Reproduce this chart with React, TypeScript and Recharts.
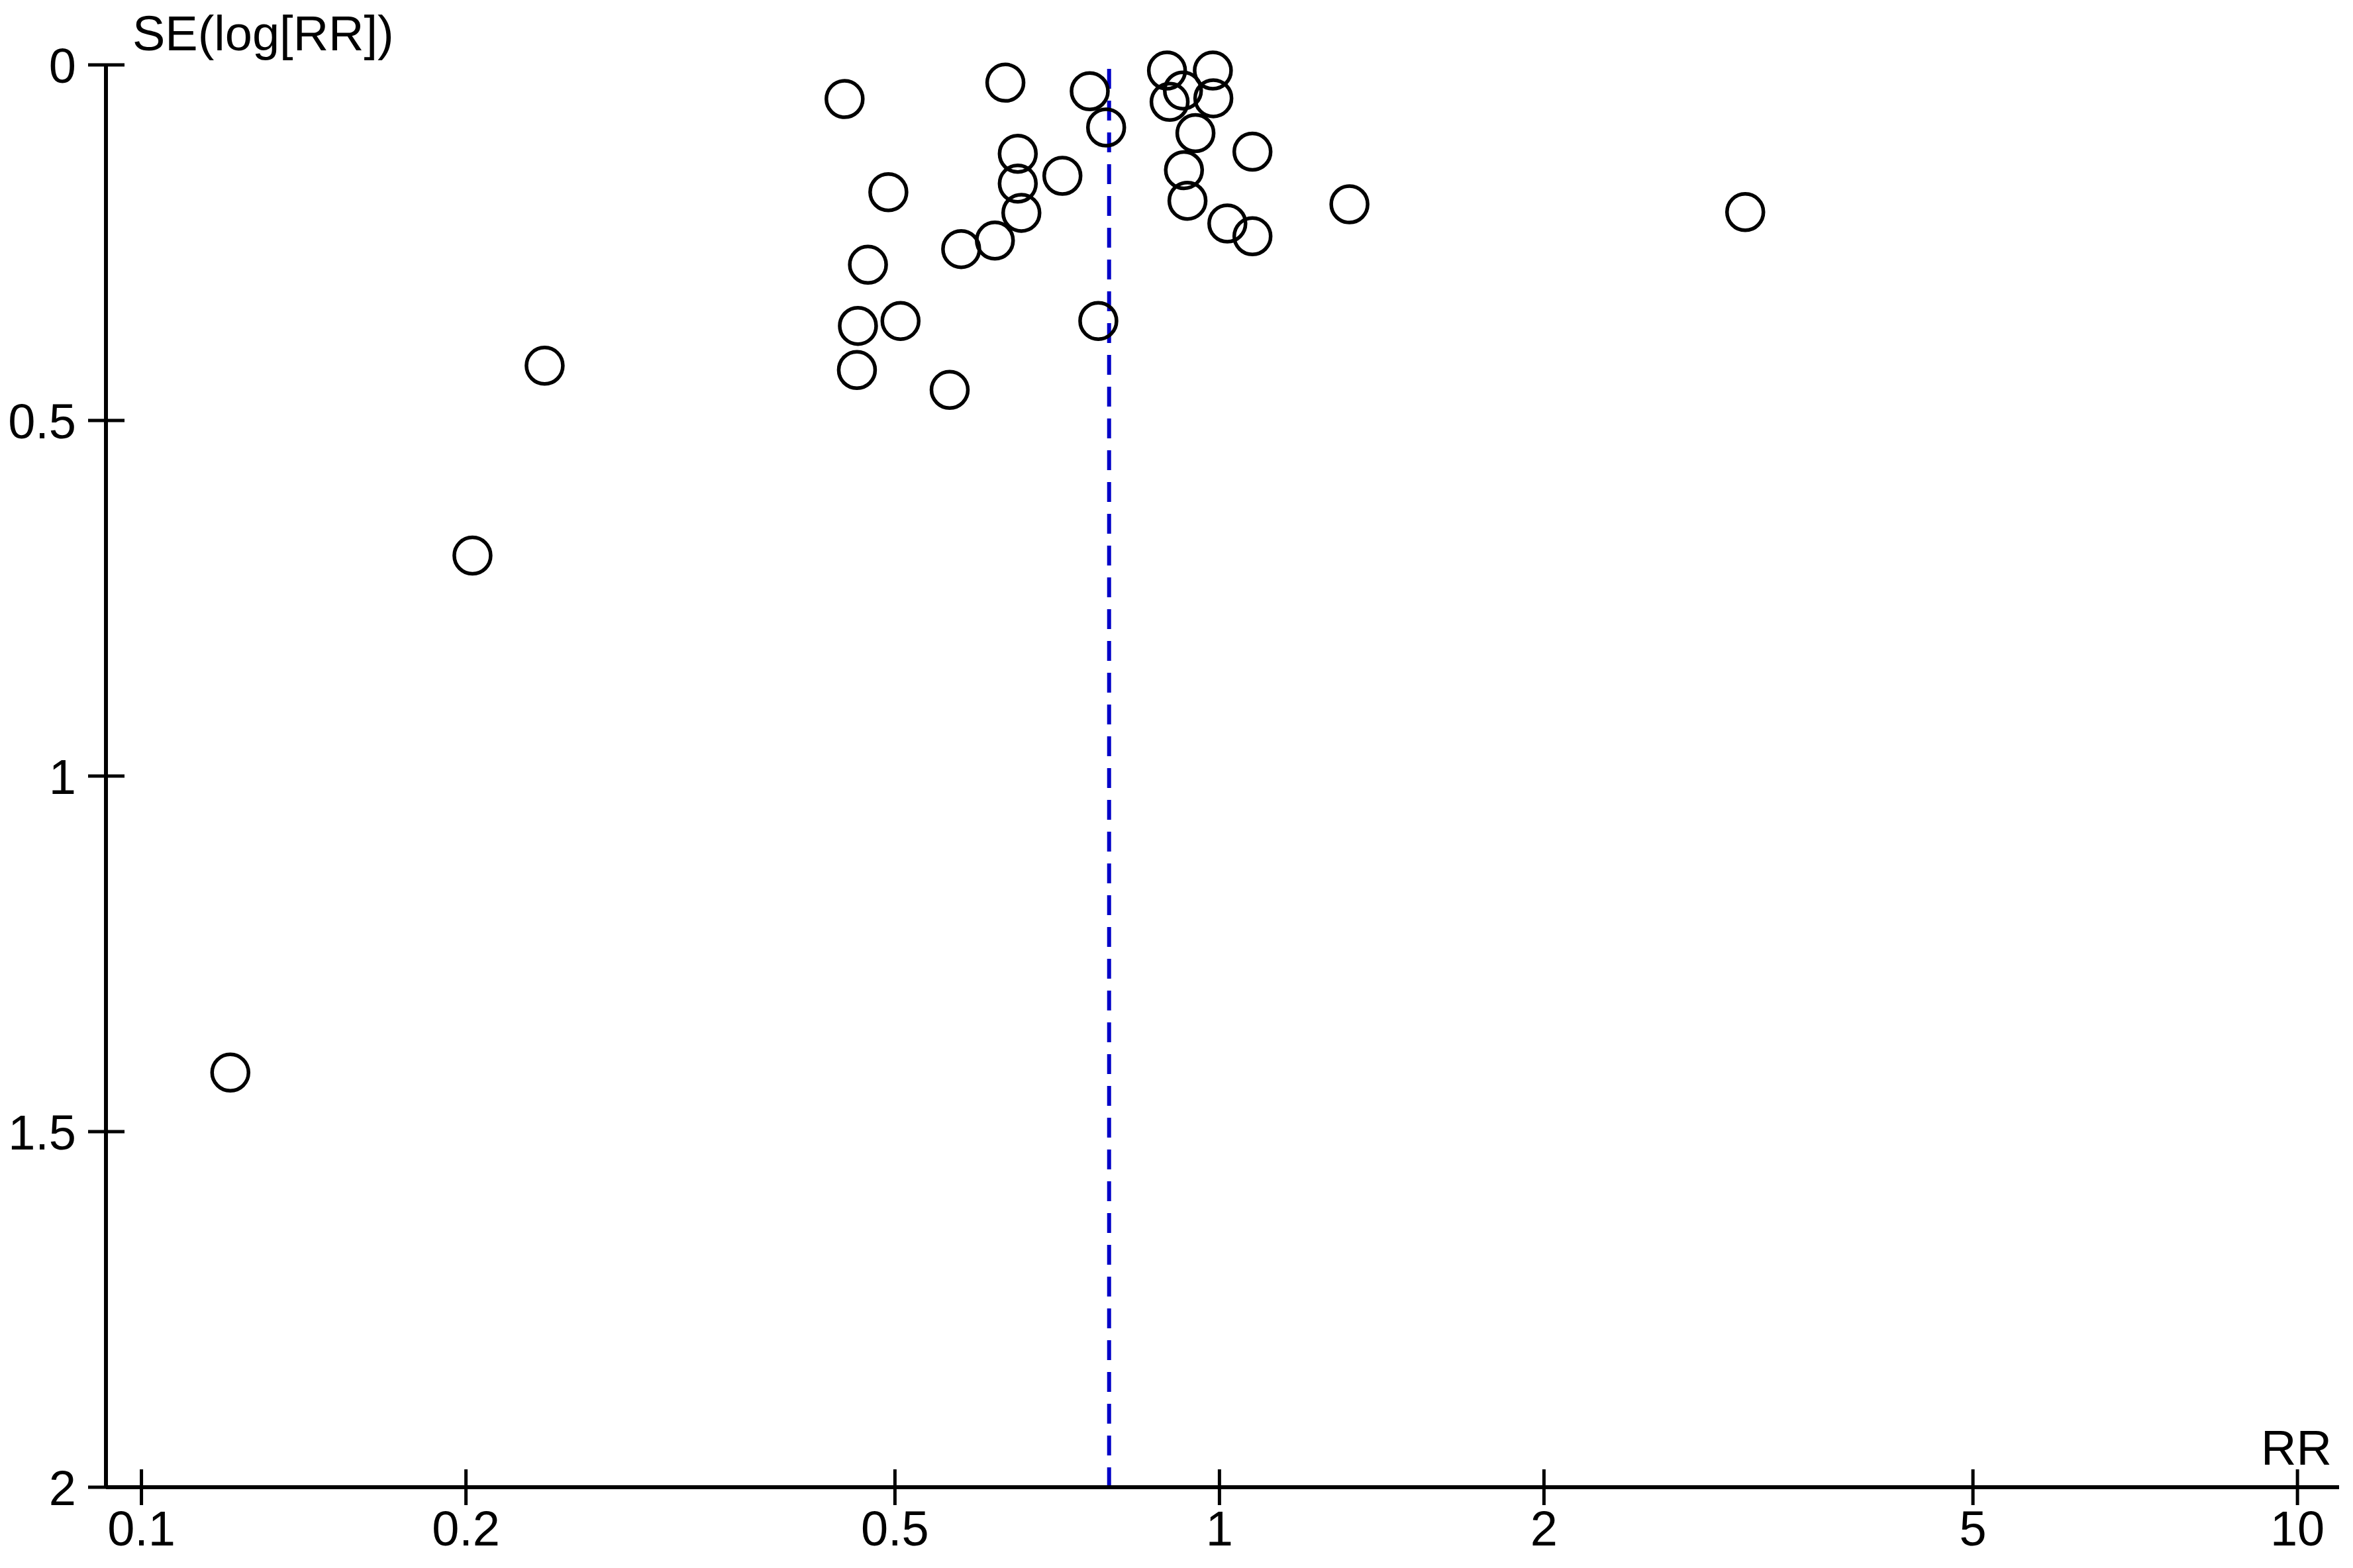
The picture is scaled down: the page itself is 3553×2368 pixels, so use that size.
import { ScatterChart, Scatter, XAxis, YAxis, ReferenceLine } from "recharts";

// risk ratio and standard error of log(RR) for each study
const rrValues = [
  0.449, 0.633, 0.758, 0.785, 0.894, 0.986, 0.899, 0.925, 0.987, 0.95, 1.073,
  0.65, 0.715, 0.65, 0.927, 0.493, 0.655, 0.934, 1.32, 3.074, 1.017, 1.073,
  0.619, 0.576, 0.472, 0.462, 0.506, 0.772, 0.2366, 0.461, 0.562, 0.2028, 0.1209,
];
const seValues = [
  0.048, 0.025, 0.037, 0.088, 0.008, 0.008, 0.052, 0.036, 0.047, 0.096, 0.122,
  0.125, 0.156, 0.167, 0.148, 0.179, 0.208, 0.191, 0.196, 0.207, 0.223, 0.241,
  0.247, 0.259, 0.281, 0.367, 0.36, 0.36, 0.423, 0.429, 0.457, 0.69, 1.417,
];
const pooledRR = 0.79;
const xTicks = [0.1, 0.2, 0.5, 1, 2, 5, 10];
const yTicks = [0, 0.5, 1, 1.5, 2];

const points = rrValues.map((rr, i) => ({ rr, se: seValues[i] }));

const FONT = "'Liberation Sans', Arial, sans-serif";
const FS = 74;

function XTick(props: any) {
  const { x, y, payload } = props;
  return (
    <g>
      <line x1={x} x2={x} y1={y - 27} y2={y + 27} stroke="#000" strokeWidth={5} />
      <text x={x} y={y + 88} textAnchor="middle" fontFamily={FONT} fontSize={FS} fill="#000">
        {String(payload.value)}
      </text>
    </g>
  );
}

function YTick(props: any) {
  const { x, y, payload } = props;
  return (
    <g>
      <line x1={x - 27} x2={x + 28} y1={y} y2={y} stroke="#000" strokeWidth={5} />
      <text x={x - 45} y={y + 27} textAnchor="end" fontFamily={FONT} fontSize={FS} fill="#000">
        {String(payload.value)}
      </text>
    </g>
  );
}

function Ring(props: any) {
  const { cx, cy } = props;
  return <circle cx={cx} cy={cy} r={27.5} fill="none" stroke="#000" strokeWidth={5.5} />;
}

export default function App() {
  return (
    <div style={{ position: "absolute", left: 0, top: 0, width: 3553, height: 2368, background: "#fff" }}>
      <ScatterChart width={3553} height={2368} margin={{ top: 98, right: 21, left: 60, bottom: 62 }}>
        <XAxis
          type="number"
          dataKey="rr"
          scale="log"
          domain={[0.0927, 10.93]}
          ticks={xTicks}
          height={60}
          tickSize={0}
          tickMargin={0}
          tickLine={false}
          axisLine={{ stroke: "#000", strokeWidth: 6 }}
          tick={<XTick />}
          label={{
            content: (p: any) => {
              const vb = p.viewBox;
              return (
                <text x={vb.x + vb.width - 11} y={vb.y - 34} textAnchor="end" fontFamily={FONT} fontSize={FS} fill="#000">
                  RR
                </text>
              );
            },
          }}
        />
        <YAxis
          type="number"
          dataKey="se"
          reversed
          domain={[0, 2]}
          ticks={yTicks}
          width={100}
          tickSize={0}
          tickMargin={0}
          tickLine={false}
          axisLine={{ stroke: "#000", strokeWidth: 6 }}
          tick={<YTick />}
          label={{
            content: (p: any) => {
              const vb = p.viewBox;
              return (
                <text x={vb.x + vb.width + 40} y={vb.y - 22} fontFamily={FONT} fontSize={FS} fill="#000">
                  SE(log[RR])
                </text>
              );
            },
          }}
        />
        <ReferenceLine x={pooledRR} stroke="#0000C8" strokeWidth={6} strokeDasharray="30 18" />
        <Scatter data={points} shape={<Ring />} isAnimationActive={false} />
      </ScatterChart>
    </div>
  );
}
